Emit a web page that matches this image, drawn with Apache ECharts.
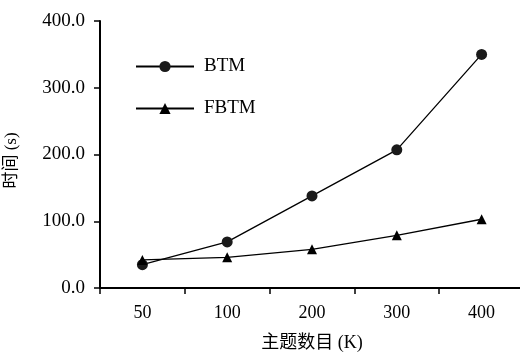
<!DOCTYPE html>
<html>
<head>
<meta charset="utf-8">
<script src="https://cdn.jsdelivr.net/npm/echarts@6/dist/echarts.min.js"></script>
<style>
  html, body { margin: 0; padding: 0; background: #fff; }
  #chart { width: 520px; height: 354px; }
</style>
</head>
<body>
<div id="chart"></div>
<script>
// 主题数目 (K)
const categories = ['50', '100', '200', '300', '400']
// 时间 (s)
const btm = [35, 69, 138, 207, 350]
const fbtm = [42, 46, 58, 79, 103]
const yTicks = [0, 100, 200, 300, 400]

const fontFamily = '"Liberation Serif", "Noto Sans CJK SC", serif'

const myChart = echarts.init(document.getElementById('chart'))
myChart.setOption({
    animation: false,
    textStyle: { fontFamily: fontFamily, color: '#000' },
    legend: {
        orient: 'vertical',
        left: 130,
        top: 52,
        itemGap: 23,
        itemWidth: 58,
        itemHeight: 14,
        textStyle: { fontSize: 19, color: '#000', fontFamily: fontFamily, padding: [0, 0, 0, 5] },
        data: ['BTM', 'FBTM']
    },
    grid: {
        left: 100,
        right: -4,
        top: 21,
        bottom: 66,
        outerBoundsMode: 'none' // 不让标签挤压坐标区
    },
    xAxis: {
        type: 'category',
        data: categories,
        boundaryGap: true,
        name: '主题数目 (K)',
        nameLocation: 'middle',
        nameGap: 46,
        nameTextStyle: { fontSize: 18, color: '#000', fontFamily: fontFamily },
        axisLine: { lineStyle: { color: '#000', width: 2 } },
        axisTick: { show: true, length: 6, lineStyle: { color: '#000', width: 1.5 } },
        axisLabel: { fontSize: 18, color: '#000', margin: 16, fontFamily: fontFamily },
        splitLine: { show: false }
    },
    yAxis: {
        type: 'value',
        min: yTicks[0],
        max: yTicks[yTicks.length - 1],
        interval: 100,
        name: '时间 (s)',
        nameLocation: 'middle',
        nameGap: 80,
        nameRotate: 90,
        nameTextStyle: { fontSize: 17, color: '#000', fontFamily: fontFamily, padding: [0, 12, 0, 0] },
        axisLine: { show: true, lineStyle: { color: '#000', width: 2 } },
        axisTick: { show: true, length: 6, lineStyle: { color: '#000', width: 1.5 } },
        axisLabel: {
            fontSize: 19,
            color: '#000',
            margin: 15,
            fontFamily: fontFamily,
            formatter: v => v.toFixed(1)
        },
        splitLine: { show: false }
    },
    series: [
        {
            name: 'BTM',
            type: 'line',
            data: btm,
            symbol: 'circle',
            symbolSize: 11,
            itemStyle: { color: '#1a1a1a' },
            lineStyle: { color: '#000', width: 1.3 }
        },
        {
            name: 'FBTM',
            type: 'line',
            data: fbtm,
            symbol: 'triangle',
            symbolSize: 10,
            itemStyle: { color: '#000' },
            lineStyle: { color: '#000', width: 1.3 }
        }
    ]
})
</script>
</body>
</html>
